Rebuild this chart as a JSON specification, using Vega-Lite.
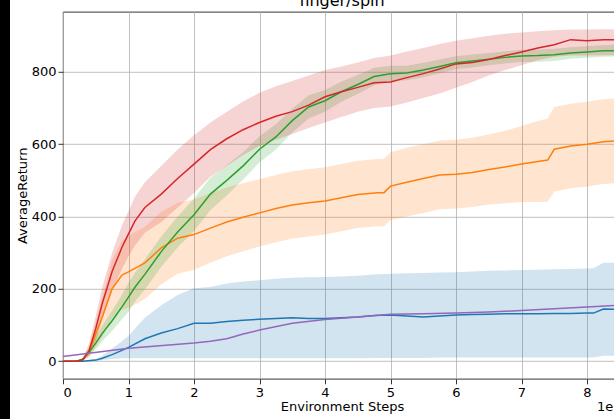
{
  "$schema": "https://vega.github.io/schema/vega-lite/v6.json",
  "padding": {"left": 0, "top": -8, "right": -8, "bottom": 0},
  "spacing": 5,
  "center": true,
  "background": "white",
  "config": {"font": "DejaVu Sans"},
  "hconcat": [
    {
      "width": 10,
      "height": 440,
      "view": {"fill": "black", "stroke": null},
      "data": {"values": [{}]},
      "mark": {"type": "point", "opacity": 0},
      "encoding": {}
    },
    {
      "width": 558,
      "height": 367,
      "view": {"stroke": "black", "strokeWidth": 0.8},
      "title": {"text": "finger/spin", "fontSize": 16, "fontWeight": "normal", "font": "DejaVu Sans", "color": "black", "baseline": "alphabetic", "offset": -10},
      "data": {"values": [
        {"s":"A","x":0,"m":0,"lo":0,"hi":0},
        {"s":"A","x":30000,"m":0,"lo":0,"hi":0},
        {"s":"A","x":50000,"m":3,"lo":0,"hi":6},
        {"s":"A","x":60000,"m":8,"lo":3,"hi":15},
        {"s":"A","x":75000,"m":18,"lo":6,"hi":35},
        {"s":"A","x":90000,"m":30,"lo":8,"hi":55},
        {"s":"A","x":100000,"m":38,"lo":8,"hi":70},
        {"s":"A","x":125000,"m":62,"lo":8,"hi":120},
        {"s":"A","x":150000,"m":78,"lo":8,"hi":155},
        {"s":"A","x":175000,"m":90,"lo":8,"hi":183},
        {"s":"A","x":200000,"m":105,"lo":8,"hi":202},
        {"s":"A","x":225000,"m":105,"lo":8,"hi":205},
        {"s":"A","x":250000,"m":110,"lo":8,"hi":215},
        {"s":"A","x":275000,"m":113,"lo":8,"hi":220},
        {"s":"A","x":300000,"m":116,"lo":8,"hi":224},
        {"s":"A","x":325000,"m":118,"lo":8,"hi":228},
        {"s":"A","x":350000,"m":120,"lo":8,"hi":231},
        {"s":"A","x":375000,"m":118,"lo":8,"hi":232},
        {"s":"A","x":400000,"m":118,"lo":8,"hi":233},
        {"s":"A","x":425000,"m":120,"lo":8,"hi":234},
        {"s":"A","x":450000,"m":122,"lo":8,"hi":236},
        {"s":"A","x":475000,"m":126,"lo":9,"hi":240},
        {"s":"A","x":500000,"m":128,"lo":9,"hi":242},
        {"s":"A","x":525000,"m":125,"lo":9,"hi":243},
        {"s":"A","x":550000,"m":122,"lo":9,"hi":244},
        {"s":"A","x":575000,"m":125,"lo":10,"hi":245},
        {"s":"A","x":600000,"m":128,"lo":10,"hi":246},
        {"s":"A","x":625000,"m":129,"lo":10,"hi":248},
        {"s":"A","x":650000,"m":130,"lo":10,"hi":250},
        {"s":"A","x":675000,"m":131,"lo":10,"hi":251},
        {"s":"A","x":700000,"m":131,"lo":10,"hi":252},
        {"s":"A","x":725000,"m":131,"lo":10,"hi":253},
        {"s":"A","x":750000,"m":132,"lo":10,"hi":254},
        {"s":"A","x":775000,"m":132,"lo":10,"hi":255},
        {"s":"A","x":800000,"m":133,"lo":10,"hi":256},
        {"s":"A","x":810000,"m":133,"lo":10,"hi":257},
        {"s":"A","x":825000,"m":144,"lo":15,"hi":272},
        {"s":"A","x":850000,"m":143,"lo":15,"hi":272},

        {"s":"B","x":0,"m":0,"lo":0,"hi":0},
        {"s":"B","x":20000,"m":0,"lo":0,"hi":0},
        {"s":"B","x":30000,"m":5,"lo":1,"hi":9},
        {"s":"B","x":40000,"m":25,"lo":10,"hi":40},
        {"s":"B","x":50000,"m":75,"lo":40,"hi":110},
        {"s":"B","x":60000,"m":122,"lo":67,"hi":177},
        {"s":"B","x":75000,"m":200,"lo":120,"hi":280},
        {"s":"B","x":90000,"m":238,"lo":143,"hi":333},
        {"s":"B","x":100000,"m":247,"lo":147,"hi":347},
        {"s":"B","x":125000,"m":272,"lo":172,"hi":372},
        {"s":"B","x":150000,"m":313,"lo":213,"hi":413},
        {"s":"B","x":175000,"m":340,"lo":242,"hi":438},
        {"s":"B","x":200000,"m":350,"lo":253,"hi":447},
        {"s":"B","x":225000,"m":368,"lo":272,"hi":464},
        {"s":"B","x":250000,"m":385,"lo":290,"hi":480},
        {"s":"B","x":275000,"m":398,"lo":304,"hi":492},
        {"s":"B","x":300000,"m":410,"lo":317,"hi":503},
        {"s":"B","x":325000,"m":422,"lo":329,"hi":515},
        {"s":"B","x":350000,"m":432,"lo":339,"hi":525},
        {"s":"B","x":375000,"m":438,"lo":345,"hi":531},
        {"s":"B","x":400000,"m":443,"lo":350,"hi":536},
        {"s":"B","x":425000,"m":452,"lo":359,"hi":545},
        {"s":"B","x":450000,"m":461,"lo":368,"hi":554},
        {"s":"B","x":480000,"m":466,"lo":373,"hi":559},
        {"s":"B","x":490000,"m":466,"lo":373,"hi":559},
        {"s":"B","x":500000,"m":484,"lo":390,"hi":578},
        {"s":"B","x":525000,"m":495,"lo":400,"hi":590},
        {"s":"B","x":550000,"m":505,"lo":410,"hi":600},
        {"s":"B","x":575000,"m":515,"lo":420,"hi":610},
        {"s":"B","x":600000,"m":517,"lo":422,"hi":612},
        {"s":"B","x":625000,"m":522,"lo":426,"hi":618},
        {"s":"B","x":650000,"m":530,"lo":433,"hi":627},
        {"s":"B","x":675000,"m":537,"lo":437,"hi":637},
        {"s":"B","x":700000,"m":545,"lo":440,"hi":650},
        {"s":"B","x":725000,"m":552,"lo":440,"hi":664},
        {"s":"B","x":740000,"m":556,"lo":441,"hi":671},
        {"s":"B","x":750000,"m":586,"lo":469,"hi":703},
        {"s":"B","x":775000,"m":595,"lo":478,"hi":712},
        {"s":"B","x":800000,"m":600,"lo":483,"hi":717},
        {"s":"B","x":825000,"m":607,"lo":490,"hi":724},
        {"s":"B","x":850000,"m":610,"lo":493,"hi":727},

        {"s":"C","x":0,"m":0,"lo":0,"hi":0},
        {"s":"C","x":20000,"m":0,"lo":0,"hi":0},
        {"s":"C","x":30000,"m":5,"lo":2,"hi":8},
        {"s":"C","x":40000,"m":25,"lo":15,"hi":35},
        {"s":"C","x":50000,"m":50,"lo":32,"hi":68},
        {"s":"C","x":60000,"m":77,"lo":55,"hi":99},
        {"s":"C","x":75000,"m":112,"lo":84,"hi":140},
        {"s":"C","x":90000,"m":150,"lo":116,"hi":184},
        {"s":"C","x":100000,"m":177,"lo":137,"hi":217},
        {"s":"C","x":110000,"m":205,"lo":165,"hi":245},
        {"s":"C","x":125000,"m":240,"lo":198,"hi":282},
        {"s":"C","x":150000,"m":303,"lo":261,"hi":345},
        {"s":"C","x":175000,"m":357,"lo":314,"hi":400},
        {"s":"C","x":200000,"m":405,"lo":360,"hi":450},
        {"s":"C","x":225000,"m":462,"lo":417,"hi":507},
        {"s":"C","x":250000,"m":500,"lo":458,"hi":542},
        {"s":"C","x":275000,"m":540,"lo":502,"hi":578},
        {"s":"C","x":300000,"m":586,"lo":550,"hi":622},
        {"s":"C","x":325000,"m":620,"lo":585,"hi":655},
        {"s":"C","x":350000,"m":665,"lo":632,"hi":698},
        {"s":"C","x":375000,"m":703,"lo":671,"hi":735},
        {"s":"C","x":400000,"m":720,"lo":690,"hi":750},
        {"s":"C","x":425000,"m":745,"lo":717,"hi":773},
        {"s":"C","x":450000,"m":765,"lo":739,"hi":791},
        {"s":"C","x":475000,"m":787,"lo":763,"hi":811},
        {"s":"C","x":500000,"m":795,"lo":773,"hi":817},
        {"s":"C","x":525000,"m":797,"lo":777,"hi":817},
        {"s":"C","x":550000,"m":805,"lo":785,"hi":825},
        {"s":"C","x":575000,"m":815,"lo":796,"hi":834},
        {"s":"C","x":600000,"m":825,"lo":807,"hi":843},
        {"s":"C","x":625000,"m":830,"lo":812,"hi":848},
        {"s":"C","x":650000,"m":835,"lo":818,"hi":852},
        {"s":"C","x":675000,"m":840,"lo":823,"hi":857},
        {"s":"C","x":700000,"m":844,"lo":827,"hi":861},
        {"s":"C","x":725000,"m":845,"lo":828,"hi":862},
        {"s":"C","x":750000,"m":847,"lo":830,"hi":864},
        {"s":"C","x":775000,"m":852,"lo":836,"hi":868},
        {"s":"C","x":800000,"m":855,"lo":839,"hi":871},
        {"s":"C","x":825000,"m":858,"lo":842,"hi":874},
        {"s":"C","x":850000,"m":859,"lo":843,"hi":875},

        {"s":"D","x":0,"m":0,"lo":0,"hi":0},
        {"s":"D","x":20000,"m":0,"lo":0,"hi":0},
        {"s":"D","x":30000,"m":3,"lo":0,"hi":8},
        {"s":"D","x":40000,"m":30,"lo":15,"hi":50},
        {"s":"D","x":50000,"m":90,"lo":55,"hi":125},
        {"s":"D","x":60000,"m":160,"lo":115,"hi":205},
        {"s":"D","x":75000,"m":248,"lo":195,"hi":300},
        {"s":"D","x":90000,"m":315,"lo":255,"hi":375},
        {"s":"D","x":100000,"m":352,"lo":290,"hi":415},
        {"s":"D","x":110000,"m":388,"lo":320,"hi":455},
        {"s":"D","x":125000,"m":425,"lo":355,"hi":495},
        {"s":"D","x":150000,"m":462,"lo":385,"hi":540},
        {"s":"D","x":175000,"m":505,"lo":425,"hi":585},
        {"s":"D","x":200000,"m":545,"lo":465,"hi":625},
        {"s":"D","x":225000,"m":585,"lo":510,"hi":660},
        {"s":"D","x":250000,"m":615,"lo":540,"hi":690},
        {"s":"D","x":275000,"m":640,"lo":570,"hi":718},
        {"s":"D","x":300000,"m":660,"lo":595,"hi":742},
        {"s":"D","x":325000,"m":677,"lo":612,"hi":760},
        {"s":"D","x":350000,"m":690,"lo":628,"hi":775},
        {"s":"D","x":375000,"m":708,"lo":645,"hi":790},
        {"s":"D","x":400000,"m":731,"lo":660,"hi":805},
        {"s":"D","x":425000,"m":745,"lo":675,"hi":815},
        {"s":"D","x":450000,"m":757,"lo":690,"hi":826},
        {"s":"D","x":475000,"m":770,"lo":700,"hi":838},
        {"s":"D","x":500000,"m":772,"lo":704,"hi":845},
        {"s":"D","x":525000,"m":784,"lo":715,"hi":856},
        {"s":"D","x":550000,"m":795,"lo":728,"hi":866},
        {"s":"D","x":575000,"m":808,"lo":740,"hi":877},
        {"s":"D","x":600000,"m":822,"lo":756,"hi":886},
        {"s":"D","x":625000,"m":826,"lo":772,"hi":893},
        {"s":"D","x":650000,"m":834,"lo":790,"hi":900},
        {"s":"D","x":675000,"m":845,"lo":805,"hi":905},
        {"s":"D","x":700000,"m":855,"lo":818,"hi":909},
        {"s":"D","x":725000,"m":866,"lo":832,"hi":912},
        {"s":"D","x":750000,"m":875,"lo":842,"hi":915},
        {"s":"D","x":775000,"m":889,"lo":845,"hi":917},
        {"s":"D","x":800000,"m":886,"lo":845,"hi":917},
        {"s":"D","x":825000,"m":889,"lo":846,"hi":918},
        {"s":"D","x":850000,"m":889,"lo":846,"hi":918},

        {"s":"E","x":0,"m":13},
        {"s":"E","x":100000,"m":36},
        {"s":"E","x":200000,"m":50},
        {"s":"E","x":225000,"m":55},
        {"s":"E","x":250000,"m":62},
        {"s":"E","x":275000,"m":75},
        {"s":"E","x":300000,"m":86},
        {"s":"E","x":350000,"m":105},
        {"s":"E","x":400000,"m":115},
        {"s":"E","x":450000,"m":122},
        {"s":"E","x":500000,"m":130},
        {"s":"E","x":550000,"m":131},
        {"s":"E","x":600000,"m":133},
        {"s":"E","x":650000,"m":136},
        {"s":"E","x":700000,"m":140},
        {"s":"E","x":750000,"m":145},
        {"s":"E","x":800000,"m":150},
        {"s":"E","x":850000,"m":155}
      ]},
      "resolve": {"axis": {"x": "independent"}},
      "layer": [
        {
          "transform": [{"filter": "isValid(datum.lo)"}],
          "mark": {"type": "area", "opacity": 0.2, "clip": true},
          "encoding": {
            "x": {"field": "x", "type": "quantitative", "scale": {"domain": [0, 851900], "nice": false, "zero": false},
              "axis": {"orient": "bottom", "values": [0,100000,200000,300000,400000,500000,600000,700000,800000], "labelExpr": "datum.value / 100000",
                "grid": true, "gridColor": "#b0b0b0", "gridWidth": 0.8, "domain": false, "tickColor": "black", "tickSize": 5, "tickWidth": 0.8,
                "labelFont": "DejaVu Sans", "labelFontSize": 13, "labelColor": "black", "labelPadding": 3,
                "title": "Environment Steps", "titleFont": "DejaVu Sans", "titleFontSize": 13, "titleFontWeight": "normal", "titleColor": "black", "titlePadding": 1}},
            "y": {"field": "lo", "type": "quantitative", "scale": {"domain": [-48.7, 966], "nice": false, "zero": false},
              "axis": {"values": [0,200,400,600,800], "grid": true, "gridColor": "#b0b0b0", "gridWidth": 0.8, "domain": false,
                "tickColor": "black", "tickSize": 5, "tickWidth": 0.8,
                "labelFont": "DejaVu Sans", "labelFontSize": 13, "labelColor": "black", "labelPadding": 2,
                "title": "AverageReturn", "titleFont": "DejaVu Sans", "titleFontSize": 13, "titleFontWeight": "normal", "titleColor": "black", "titlePadding": 2}},
            "y2": {"field": "hi"},
            "color": {"field": "s", "type": "nominal", "legend": null,
              "scale": {"domain": ["A","B","C","D","E"], "range": ["#1f77b4","#ff7f0e","#2ca02c","#d62728","#9467bd"]}}
          }
        },
        {
          "mark": {"type": "line", "strokeWidth": 1.5, "clip": true},
          "encoding": {
            "x": {"field": "x", "type": "quantitative",
              "axis": {"orient": "bottom", "labels": false, "ticks": false, "domain": false, "grid": false,
                "title": "1e5", "titleFont": "DejaVu Sans", "titleFontSize": 13, "titleFontWeight": "normal", "titleColor": "black",
                "titleAnchor": "end", "titleAlign": "right", "titleY": 22}},
            "y": {"field": "m", "type": "quantitative"},
            "color": {"field": "s", "type": "nominal", "legend": null}
          }
        }
      ]
    }
  ]
}
